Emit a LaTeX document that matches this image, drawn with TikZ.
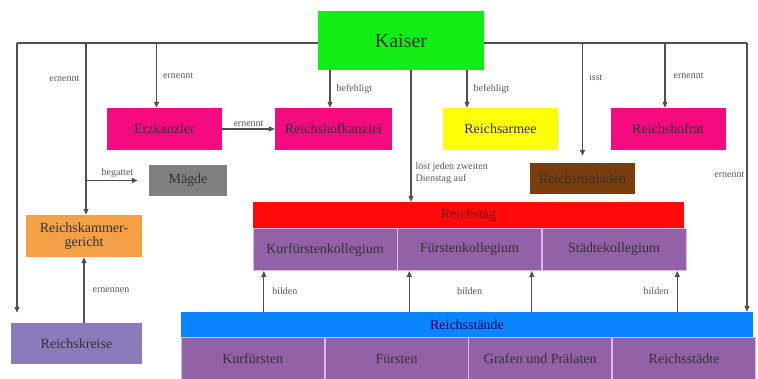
\documentclass[tikz,border=0pt]{standalone}
\usepackage{fontspec}
\setmainfont{Liberation Serif}
\usetikzlibrary{arrows.meta, positioning, calc}

\definecolor{kaisergreen}{HTML}{12EE12}
\definecolor{amtpink}{HTML}{F50A80}
\definecolor{armyellow}{HTML}{FFFF08}
\definecolor{maegdegray}{HTML}{808080}
\definecolor{rouladenbrown}{HTML}{7A3E0C}
\definecolor{kammerorange}{HTML}{F4A046}
\definecolor{kreislila}{HTML}{8A7CBA}
\definecolor{tagred}{HTML}{FF0A0A}
\definecolor{standblue}{HTML}{0A84FF}
\definecolor{kollpurple}{HTML}{9362A6}
\definecolor{kollline}{HTML}{E0B8E8}
\definecolor{linegray}{HTML}{505050}

\begin{document}
\begin{tikzpicture}[x=1pt, y=-1pt,
  block/.style={rectangle, inner sep=0pt, align=center,
    font=\fontsize{14}{14}\selectfont, text=black!80},
  amt/.style={block, fill=amtpink, minimum width=115pt, minimum height=42pt},
  cell/.style={block, fill=kollpurple, draw=kollline, line width=0.8pt,
    minimum height=42pt},
  bar/.style={block, minimum height=25pt},
  arrow/.style={-{Triangle[length=6pt, width=5pt]}, line width=1.2pt, draw=linegray},
  conn/.style={line width=1.2pt, draw=linegray},
  lbl/.style={font=\fontsize{10}{12}\selectfont, text=black!65, inner sep=2pt},
]
\useasboundingbox (0,0) rectangle (758,379);

% Kaiser
\node[block, fill=kaisergreen, minimum width=166pt, minimum height=59pt,
  font=\fontsize{20}{22}\selectfont] (kaiser) at (401,40.5) {Kaiser};

% Aemter
\node[amt] (erz) at (164.5,129) {Erzkanzler};
\node[amt, minimum width=117pt] (rhk) at (333.5,129) {Reichshofkanzlei};
\node[amt, fill=armyellow] (armee) at (500.5,129) {Reichsarmee};
\node[amt] (hofrat) at (668,129) {Reichshofrat};
\node[block, fill=maegdegray, minimum width=78pt, minimum height=31pt] (maegde) at (188,180.5) {Mägde};
\node[block, fill=rouladenbrown, minimum width=105pt, minimum height=31pt] (rouladen) at (582.5,178.5) {Reichsrouladen};

% Gericht und Kreise
\node[block, fill=kammerorange, minimum width=116pt, minimum height=42pt] (kammer) at (84,236) {Reichskammer-\\gericht};
\node[block, fill=kreislila, minimum width=131pt, minimum height=41pt] (kreise) at (76.5,343.5) {Reichskreise};

% Reichstag
\node[bar, fill=tagred, minimum width=431pt, minimum height=26pt, text=red!45!black] (tag) at (468.5,215) {Reichstag};
\node[cell, minimum width=143.7pt, anchor=north west] (kurkoll) at (tag.south west) {Kurfürstenkollegium};
\node[cell, minimum width=143.7pt, right=0pt of kurkoll] (fuerstkoll) {Fürstenkollegium};
\node[cell, minimum width=143.7pt, right=0pt of fuerstkoll] (staedtekoll) {Städtekollegium};

% Reichsstaende
\node[bar, fill=standblue, minimum width=572pt, text=blue!40!black] (stand) at (467,324.5) {Reichsstände};
\node[cell, minimum width=143pt, anchor=north west] (kurf) at (stand.south west) {Kurfürsten};
\node[cell, minimum width=143pt, right=0pt of kurf] (fuerst) {Fürsten};
\node[cell, minimum width=143pt, right=0pt of fuerst] (grafen) {Grafen und Prälaten};
\node[cell, minimum width=143pt, right=0pt of grafen] (staedte) {Reichsstädte};

% Kaiser lines
\coordinate (lt) at (17,43);
\coordinate (rt) at (747,43);
\draw[conn] (kaiser.west |- lt) -- (lt);
\draw[conn] (kaiser.east |- rt) -- (rt);
\draw[arrow, shorten >=10pt] (lt) -- (lt |- kreise.north);
\draw[arrow] (rt) -- node[lbl, left, pos=0.49] {ernennt} (rt |- stand.north);

% left side
\draw[arrow] ([xshift=2pt]kammer.north |- lt) -- node[lbl, left=4pt, pos=0.21] {ernennt} ([xshift=2pt]kammer.north);
\draw[arrow, shorten >=11pt] ([xshift=2pt]kammer.north |- maegde) -- node[lbl, above] {begattet} (maegde.west);
\draw[arrow] (kreise.north -| kammer.south) -- node[lbl, right=6pt] {ernennen} (kammer.south);
\draw[arrow] ([xshift=-8pt]erz.north |- lt) -- node[lbl, right=4pt] {ernennt} ([xshift=-8pt]erz.north);
\draw[arrow] (erz) -- node[lbl, above] {ernennt} (rhk);

% from Kaiser
\draw[arrow] ([xshift=-3.5pt]rhk.north |- kaiser.south) -- node[lbl, right=4pt] {befehligt} ([xshift=-3.5pt]rhk.north);
\draw[arrow] ([xshift=-33.5pt]armee.north |- kaiser.south) -- node[lbl, right=4pt] {befehligt} ([xshift=-33.5pt]armee.north);
\draw[arrow] ([xshift=10pt]kaiser.south) -- node[lbl, right=2pt, pos=0.78, align=left] {löst jeden zweiten\\Dienstag auf} ([xshift=10pt]kaiser.south |- tag.north);
\draw[arrow, shorten >=7pt] (rouladen.north |- rt) -- node[lbl, right=4pt, pos=0.29] {isst} (rouladen.north);
\draw[arrow] ([xshift=-3pt]hofrat.north |- rt) -- node[lbl, right=6pt] {ernennt} ([xshift=-3pt]hofrat.north);

% bilden
\draw[arrow] ([xshift=11pt]kurkoll.south west |- stand.north) -- node[lbl, right=6pt] {bilden} ([xshift=11pt]kurkoll.south west);
\draw[arrow] ([xshift=12pt]fuerstkoll.south west |- stand.north) -- ([xshift=12pt]fuerstkoll.south west);
\draw[arrow] ([xshift=-10pt]fuerstkoll.south east |- stand.north) -- ([xshift=-10pt]fuerstkoll.south east);
\draw[arrow] ([xshift=-9pt]staedtekoll.south east |- stand.north) -- node[lbl, left=6pt] {bilden} ([xshift=-9pt]staedtekoll.south east);
\node[lbl] (bildenmitte) at ($(fuerstkoll.south)!0.5!(fuerstkoll.south |- stand.north)$) {bilden};

\end{tikzpicture}
\end{document}
